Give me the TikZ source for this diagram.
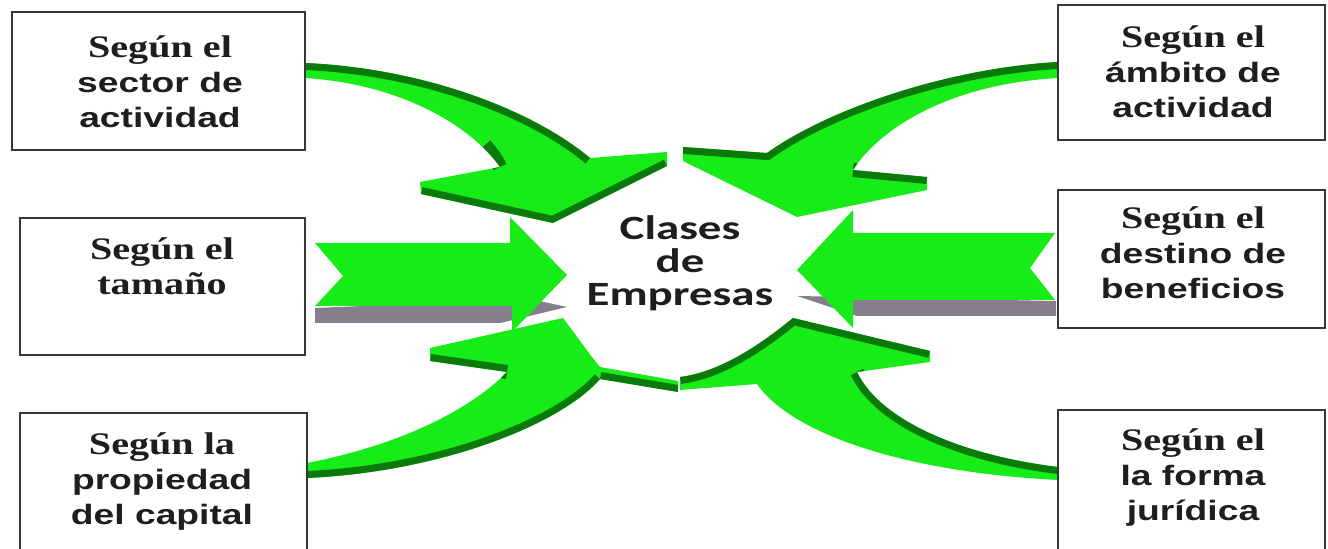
\documentclass[tikz,border=0pt]{standalone}
\usepackage{fontspec}
\newfontfamily\sfb[FakeStretch=1.33]{Liberation Sans}
\newfontfamily\srb[FakeStretch=1.28, Scale=1.12]{Liberation Serif}
\newfontfamily\calfnt[FakeStretch=1.38]{Carlito}
\definecolor{lg}{RGB}{24,236,24}
\definecolor{dg}{RGB}{10,122,10}
\definecolor{sh}{RGB}{133,126,140}
\definecolor{bx}{RGB}{55,55,55}
\definecolor{tx}{RGB}{30,30,30}
\tikzset{
  box/.style={draw=bx, line width=1.4pt, fill=white},
  face/.style={fill=lg},
  band/.style={draw=dg, line width=7pt},
  shadow/.style={fill=sh},
  lbl/.style={align=center, text=tx, inner sep=0pt, font=\fontsize{14}{17.5}\selectfont},
  ctr/.style={align=center, text=tx, inner sep=0pt, font=\calfnt\bfseries\fontsize{17}{16.5}\selectfont}
}
\def\TL{(305,63) .. controls (420,68) and (530,108) .. (590,158) -- (667,152) -- (667,166) -- (553,223) -- (421,194) -- (420,182) -- (500,167) .. controls (470,125) and (400,84) .. (305,78) -- cycle}
\def\TR{(1058,62) .. controls (950,68) and (830,108) .. (767,153) -- (683,147) -- (683,161) -- (797,217) -- (927,190) -- (927,177) -- (853,170) .. controls (880,128) and (950,84) .. (1058,78) -- cycle}
\def\ML{(315,243) -- (510,243) -- (510,217) -- (567,275) -- (512,332) -- (512,306) -- (315,306) -- (343,276) -- cycle}
\def\MR{(1055,233) -- (853,233) -- (853,210) -- (797,270) -- (853,328) -- (853,300) -- (1055,300) -- (1030,268) -- cycle}
\def\BL{(307,463) .. controls (400,445) and (470,410) .. (507,372) -- (430,361) -- (430,348) -- (563,318) .. controls (578,338) and (590,355) .. (600,367) -- (678,381) -- (678,392) -- (600,379) .. controls (560,425) and (440,472) .. (307,478) -- cycle}
\def\BR{(1058,467) .. controls (960,455) and (880,420) .. (857,372) -- (930,362) -- (930,351) -- (793,318) .. controls (760,345) and (720,372) .. (680,377) -- (680,390) -- (757,384) .. controls (790,432) and (900,472) .. (1058,480) -- cycle}
\begin{document}
\begin{tikzpicture}[x=0.5pt,y=-0.5pt]
\useasboundingbox (0,0) rectangle (1328,549);
\clip (0,0) rectangle (1328,549);
\fill[white] (0,0) rectangle (1328,549);
% top-left arrow
\fill[face] \TL;
\begin{scope}
  \clip \TL;
  \draw[band] (305,63) .. controls (420,68) and (530,108) .. (590,158);
  \draw[band] (421,194) -- (553,223) -- (667,166);
  \draw[band] (485,145) .. controls (492,153) and (497,160) .. (500,167);
\end{scope}
% top-right arrow
\fill[face] \TR;
\begin{scope}
  \clip \TR;
  \draw[band] (1058,62) .. controls (950,68) and (830,108) .. (767,153) -- (683,147);
  \draw[band] (853,170) -- (927,177);
\end{scope}
% middle arrows
\fill[shadow] (567,307) -- (530,299) -- (315,308) -- (315,323) -- (500,323) -- cycle;
\fill[face] \ML;
\fill[shadow] (797,296) -- (1056,301) -- (1056,316) -- (857,316) -- cycle;
\fill[face] \MR;
% bottom-left arrow
\fill[face] \BL;
\begin{scope}
  \clip \BL;
  \draw[band] (600,379) .. controls (560,425) and (440,472) .. (307,478);
  \draw[band] (430,361) -- (507,372);
  \draw[band] (600,379) -- (678,392);
\end{scope}
% bottom-right arrow
\fill[face] \BR;
\begin{scope}
  \clip \BR;
  \draw[band] (1058,467) .. controls (960,455) and (880,420) .. (857,372);
  \draw[band] (930,351) -- (793,318) .. controls (760,345) and (720,372) .. (680,377);
\end{scope}
% boxes
\draw[box] (12,12) rectangle (305,150);
\draw[box] (20,218) rectangle (305,355);
\draw[box] (20,413) rectangle (307,570);
\draw[box] (1058,5) rectangle (1325,140);
\draw[box] (1058,190) rectangle (1325,328);
\draw[box] (1058,410) rectangle (1325,570);
% labels
\node[lbl] (t1) at (160,82) {{\srb\bfseries Según el}\\{\sfb\bfseries sector de}\\{\sfb\bfseries actividad}};
\node[lbl] (t2) at (162,266) {{\srb\bfseries Según el}\\{\srb\bfseries tamaño}};
\node[lbl] (t3) at (162,482) {{\srb\bfseries Según la}\\{\sfb\bfseries propiedad}\\{\sfb\bfseries del capital}};
\node[lbl] (t4) at (1193,72) {{\srb\bfseries Según el}\\{\sfb\bfseries ámbito de}\\{\sfb\bfseries actividad}};
\node[lbl] (t5) at (1193,253) {{\srb\bfseries Según el}\\{\sfb\bfseries destino de}\\{\sfb\bfseries beneficios}};
\node[lbl] (t6) at (1193,478) {{\srb\bfseries Según el}\\{\sfb\bfseries la forma}\\{\sfb\bfseries jurídica}};
\node[ctr] (c) at (680,263) {Clases\\de\\Empresas};
\end{tikzpicture}
\end{document}
